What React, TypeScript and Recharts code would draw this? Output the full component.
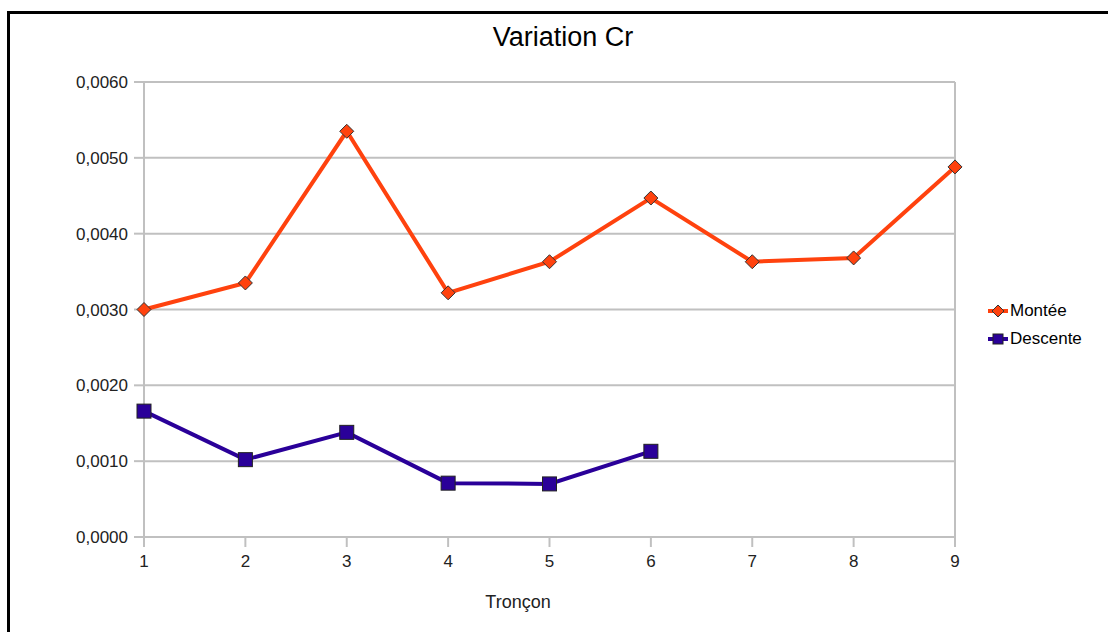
import React from 'react';
import {
  LineChart,
  Line,
  XAxis,
  YAxis,
  CartesianGrid,
  ReferenceLine,
} from 'recharts';

// Variation du coefficient Cr par tronçon
const troncons = [1, 2, 3, 4, 5, 6, 7, 8, 9];
const montee = [0.003, 0.00335, 0.00535, 0.00322, 0.00363, 0.00447, 0.00363, 0.00368, 0.00488];
const descente = [0.00166, 0.00102, 0.00138, 0.00071, 0.0007, 0.00113];
const yTicks = [0, 0.001, 0.002, 0.003, 0.004, 0.005, 0.006];

const data = troncons.map((t, i) => ({
  troncon: t,
  montee: montee[i],
  descente: i < descente.length ? descente[i] : undefined,
}));

const FONT = '"Liberation Sans", Arial, sans-serif';
const ORANGE = '#ff420e';
const BLUE = '#2a0099';
const GRID = '#c0c0c0';

// "0,0030" style
const fmtY = (v: number) => v.toFixed(4).replace('.', ',');

function Diamond(props: any) {
  const { cx, cy } = props;
  if (cx == null || cy == null) return null;
  const r = 7;
  return (
    <polygon
      points={`${cx},${cy - r} ${cx + r},${cy} ${cx},${cy + r} ${cx - r},${cy}`}
      fill={ORANGE}
      stroke="#333"
      strokeWidth={1}
    />
  );
}

function Square(props: any) {
  const { cx, cy } = props;
  if (cx == null || cy == null) return null;
  const s = 7;
  return (
    <rect x={cx - s} y={cy - s} width={s * 2} height={s * 2} fill={BLUE} stroke="#222" strokeWidth={1} />
  );
}

function LegendBox() {
  const row = (label: string, color: string, diamond: boolean) => (
    <div style={{ display: 'flex', alignItems: 'center', height: 28 }}>
      <svg width={22} height={14}>
        <rect x={0} y={5} width={20} height={4} fill={color} />
        {diamond ? (
          <polygon points="10,1 16,7 10,13 4,7" fill={color} stroke="#333" strokeWidth={1} />
        ) : (
          <rect x={5} y={2} width={10} height={10} fill={color} stroke="#222" strokeWidth={1} />
        )}
      </svg>
      <span style={{ fontSize: 17, color: '#000' }}>{label}</span>
    </div>
  );
  return (
    <div style={{ fontFamily: FONT }}>
      {row('Montée', ORANGE, true)}
      {row('Descente', BLUE, false)}
    </div>
  );
}

export default function App() {
  return (
    <div style={{ position: 'absolute', left: 0, top: 0, width: 1108, height: 632, background: '#fff', fontFamily: FONT }}>
      <div
        style={{
          position: 'absolute',
          left: 7,
          top: 11,
          width: 1108,
          height: 640,
          borderLeft: '3px solid #000',
          borderTop: '3px solid #000',
          boxSizing: 'border-box',
        }}
      />
      <div style={{ position: 'absolute', left: 0, width: 1108, top: 22, textAlign: 'center', fontSize: 27, color: '#000', paddingLeft: 18, boxSizing: 'border-box' }}>
        Variation Cr
      </div>
      <div style={{ position: 'absolute', left: 468, width: 100, top: 592, textAlign: 'center', fontSize: 18, color: '#222' }}>
        Tronçon
      </div>
      <div style={{ position: 'absolute', left: 988, top: 297 }}>
        <LegendBox />
      </div>
      <div style={{ position: 'absolute', left: 0, top: 0 }}>
        <LineChart width={1108} height={632} data={data} margin={{ top: 82, right: 153, bottom: 65, left: 0 }}>
          <CartesianGrid vertical={false} stroke={GRID} strokeWidth={2} />
          <XAxis
            dataKey="troncon"
            type="number"
            domain={[1, 9]}
            ticks={troncons}
            height={30}
            axisLine={false}
            tickLine={{ stroke: GRID, strokeWidth: 2 }}
            tickSize={10}
            tick={{ fontSize: 17, fill: '#222', fontFamily: FONT, dy: 6 }}
          />
          <YAxis
            domain={[0, 0.006]}
            ticks={yTicks}
            tickFormatter={fmtY}
            width={144}
            axisLine={{ stroke: GRID, strokeWidth: 2 }}
            tickLine={{ stroke: GRID, strokeWidth: 2 }}
            tickSize={10}
            tick={{ fontSize: 17, fill: '#222', fontFamily: FONT, dx: -4 }}
          />
          <ReferenceLine x={9} stroke={GRID} strokeWidth={2} />
          <Line
            dataKey="montee"
            name="Montée"
            stroke={ORANGE}
            strokeWidth={4}
            dot={<Diamond />}
            activeDot={false}
            isAnimationActive={false}
          />
          <Line
            dataKey="descente"
            name="Descente"
            stroke={BLUE}
            strokeWidth={4}
            dot={<Square />}
            activeDot={false}
            connectNulls={false}
            isAnimationActive={false}
          />
        </LineChart>
      </div>
    </div>
  );
}
